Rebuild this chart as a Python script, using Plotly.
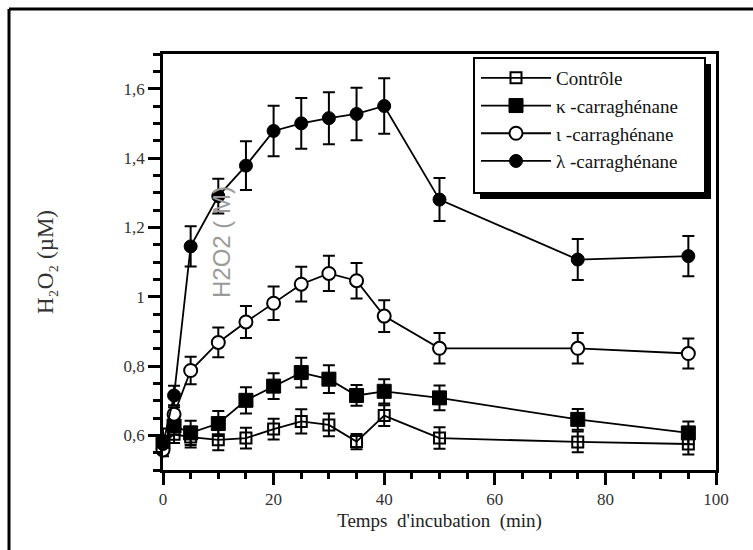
import plotly.graph_objects as go

# Incubation times (min)
temps = [0, 2, 5, 10, 15, 20, 25, 30, 35, 40, 50, 75, 95]

# H2O2 concentrations (µM) and standard errors per treatment
controle = [0.578, 0.603, 0.595, 0.587, 0.592, 0.618, 0.640, 0.630, 0.582, 0.657, 0.592, 0.581, 0.575]
controle_err = [0.02, 0.025, 0.03, 0.03, 0.03, 0.03, 0.035, 0.033, 0.022, 0.03, 0.031, 0.03, 0.03]

kappa = [0.580, 0.627, 0.607, 0.634, 0.701, 0.742, 0.781, 0.762, 0.715, 0.727, 0.708, 0.646, 0.607]
kappa_err = [0.04, 0.025, 0.035, 0.036, 0.038, 0.037, 0.043, 0.04, 0.03, 0.035, 0.036, 0.03, 0.033]

iota = [0.558, 0.661, 0.787, 0.868, 0.927, 0.981, 1.036, 1.067, 1.046, 0.944, 0.851, 0.851, 0.836]
iota_err = [0.01, 0.02, 0.04, 0.043, 0.046, 0.048, 0.05, 0.051, 0.051, 0.046, 0.044, 0.044, 0.043]

lam = [0.575, 0.715, 1.145, 1.290, 1.378, 1.478, 1.500, 1.515, 1.527, 1.550, 1.280, 1.107, 1.117]
lam_err = [0.01, 0.028, 0.058, 0.05, 0.07, 0.073, 0.073, 0.075, 0.076, 0.08, 0.062, 0.059, 0.058]

series_names = ["Contrôle", "\u03ba -carraghénane", "\u03b9 -carraghénane", "\u03bb -carraghénane"]

y_tickvals = [0.6, 0.8, 1.0, 1.2, 1.4, 1.6]
y_ticktext = ["0,6", "0,8", "1", "1,2", "1,4", "1,6"]
x_tickvals = [0, 20, 40, 60, 80, 100]

W, H = 753, 550
L, R, T, B = 163, 37, 54, 80
SERIF = "Liberation Serif, Times New Roman, serif"


def px_x(px):
    return (px - L) / (W - L - R)


def px_y(py):
    return (H - B - py) / (H - T - B)


def err(vals):
    return dict(type="data", array=vals, visible=True, color="black",
                thickness=2, width=6)


fig = go.Figure()

styles = [
    (controle, controle_err, dict(symbol="square-open", size=11, color="black",
                                  line=dict(width=2, color="black"))),
    (kappa, kappa_err, dict(symbol="square", size=14, color="black",
                            line=dict(width=1, color="black"))),
    (iota, iota_err, dict(symbol="circle", size=13, color="white",
                          line=dict(width=2, color="black"))),
    (lam, lam_err, dict(symbol="circle", size=13, color="black",
                        line=dict(width=1, color="black"))),
]

for i, (name, (vals, errs, marker)) in enumerate(zip(series_names, styles)):
    fig.add_trace(go.Scatter(
        x=temps, y=vals, name=name, mode="lines+markers",
        legendgroup=f"g{i}",
        line=dict(color="black", width=1.8),
        marker=marker, error_y=err(errs), cliponaxis=False,
    ))

# legend frame with drop shadow
box_l, box_t, box_r, box_b = 474, 58, 705, 193
shadow = 6

shapes = [
    # outer page frame (left and top edges)
    dict(type="line", xref="paper", yref="paper", x0=px_x(9), x1=px_x(9),
         y0=px_y(9), y1=px_y(560), line=dict(color="black", width=3)),
    dict(type="line", xref="paper", yref="paper", x0=px_x(9), x1=px_x(760),
         y0=px_y(9), y1=px_y(9), line=dict(color="black", width=3)),
    dict(type="rect", xref="paper", yref="paper",
         x0=px_x(box_l + shadow), x1=px_x(box_r + shadow),
         y0=px_y(box_b + shadow), y1=px_y(box_t + shadow),
         fillcolor="black", line=dict(width=0), layer="below"),
    dict(type="rect", xref="paper", yref="paper",
         x0=px_x(box_l), x1=px_x(box_r), y0=px_y(box_b), y1=px_y(box_t),
         fillcolor="white", line=dict(color="black", width=2), layer="below"),
]

annotations = [
    dict(text="H\u2082O\u2082 (µM)", xref="paper", yref="paper",
         x=px_x(45), y=0.5, xanchor="center", yanchor="middle",
         textangle=-90, showarrow=False,
         font=dict(family=SERIF, size=23, color="#333")),
    dict(text="H2O2 ( M)", xref="paper", yref="paper",
         x=px_x(222), y=px_y(242), xanchor="center", yanchor="middle",
         textangle=-90, showarrow=False,
         font=dict(family="Liberation Sans, Arial, sans-serif", size=24,
                   color="#9a9a9a")),
]

fig.update_layout(
    width=W, height=H,
    margin=dict(l=L, r=R, t=T, b=B),
    paper_bgcolor="white", plot_bgcolor="white",
    showlegend=True,
    legend=dict(x=px_x(box_l + 2), y=px_y(box_t + 1), xanchor="left", yanchor="top",
                bgcolor="rgba(0,0,0,0)", borderwidth=0,
                font=dict(family=SERIF, size=19, color="#111"),
                itemwidth=70, tracegroupgap=0),
    shapes=shapes,
    annotations=annotations,
    xaxis=dict(
        range=[0, 100], tickvals=x_tickvals,
        ticks="outside", ticklen=12, tickwidth=2.5, tickcolor="black",
        showline=True, linecolor="black", linewidth=2.5, mirror=True,
        showgrid=False, zeroline=False,
        minor=dict(dtick=5, tick0=0, ticks="outside", ticklen=6,
                   tickwidth=2.5, tickcolor="black", showgrid=False),
        tickfont=dict(family=SERIF, size=17, color="#333"),
        title=dict(text="Temps  d'incubation  (min)",
                   font=dict(family=SERIF, size=19, color="#222"), standoff=6),
    ),
    yaxis=dict(
        range=[0.5, 1.7], tickvals=y_tickvals, ticktext=y_ticktext,
        ticks="outside", ticklen=12, tickwidth=2.5, tickcolor="black",
        showline=True, linecolor="black", linewidth=2.5, mirror=True,
        showgrid=False, zeroline=False,
        minor=dict(dtick=0.05, tick0=0.5, ticks="outside", ticklen=7,
                   tickwidth=2.5, tickcolor="black", showgrid=False),
        tickfont=dict(family=SERIF, size=17, color="#333"),
    ),
)

fig.write_html("out.html")
